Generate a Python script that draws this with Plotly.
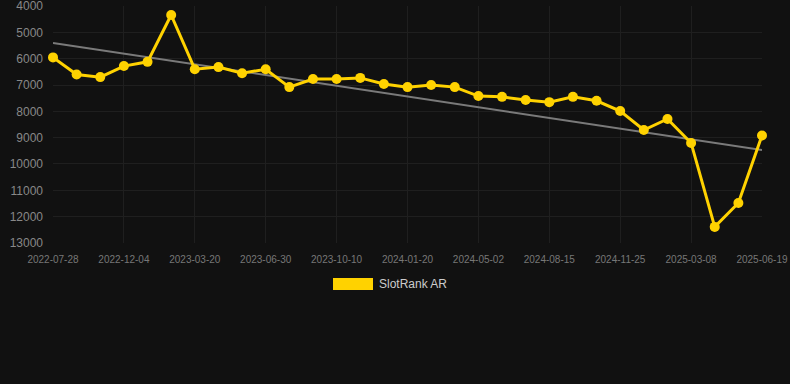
import plotly.graph_objects as go

dates = ["2022-07-28", "2022-08-31", "2022-10-03", "2022-12-04", "2023-01-08", "2023-02-13",
         "2023-03-20", "2023-04-23", "2023-05-27", "2023-06-30", "2023-08-03", "2023-09-06",
         "2023-10-10", "2023-11-13", "2023-12-17", "2024-01-20", "2024-02-23", "2024-03-29",
         "2024-05-02", "2024-06-05", "2024-07-11", "2024-08-15", "2024-09-18", "2024-10-22",
         "2024-11-25", "2024-12-29", "2025-02-02", "2025-03-08", "2025-04-11", "2025-05-15",
         "2025-06-19"]
ranks = [5950, 6600, 6700, 6280, 6120, 4340, 6400, 6320, 6550, 6400, 7080, 6770,
         6770, 6730, 6960, 7080, 7000, 7080, 7420, 7450, 7570, 7650, 7450, 7600,
         7990, 8710, 8290, 9200, 12390, 11480, 8920]
trend_x = [dates[0], dates[-1]]
trend_y = [5400, 9470]
tick_labels = dates[::3]
y_ticks = [4000, 5000, 6000, 7000, 8000, 9000, 10000, 11000, 12000, 13000]
series_name = "SlotRank AR"

YELLOW = "#FFD200"
BG = "#111111"
GRID = "#1f1f1f"

fig = go.Figure()
fig.add_trace(go.Scatter(
    x=trend_x, y=trend_y, mode="lines",
    line=dict(color="#7a7a7a", width=2), showlegend=False, hoverinfo="skip"))
fig.add_trace(go.Scatter(
    x=dates, y=ranks, mode="lines+markers", name=series_name,
    line=dict(color=YELLOW, width=3), marker=dict(color=YELLOW, size=10),
    cliponaxis=False, showlegend=False))

fig.update_layout(
    width=790, height=384,
    paper_bgcolor=BG, plot_bgcolor=BG,
    margin=dict(l=53, r=28, t=6, b=141, autoexpand=False),
    font=dict(family="Liberation Sans, Arial, sans-serif", color="#888888"),
    showlegend=False,
    xaxis=dict(
        type="category", categoryorder="array", categoryarray=dates,
        range=[0, len(dates) - 1], automargin=False,
        tickmode="array", tickvals=tick_labels, ticktext=tick_labels,
        tickfont=dict(size=10, color="#777777"),
        showgrid=True, gridcolor=GRID, gridwidth=1,
        zeroline=False, showline=False, ticks="", ticklabelstandoff=9,
        ticklabeloverflow="allow"),
    yaxis=dict(
        range=[13002, 3998], tickmode="array", tickvals=y_ticks, automargin=False,
        ticktext=[str(v) for v in y_ticks],
        tickfont=dict(size=12, color="#888888"),
        showgrid=True, gridcolor=GRID, gridwidth=1,
        zeroline=False, showline=False, ticks="", ticklabelstandoff=9,
        ticklabeloverflow="allow"),
    shapes=[dict(type="rect", xref="paper", yref="paper",
                 x0=(333 - 53) / 709, x1=(373 - 53) / 709,
                 y0=(243 - 290) / 237, y1=(243 - 278) / 237,
                 fillcolor=YELLOW, line=dict(width=0))],
    annotations=[dict(text=series_name, xref="paper", yref="paper",
                      x=(377 - 53) / 709, y=(243 - 284) / 237,
                      xanchor="left", yanchor="middle", showarrow=False,
                      font=dict(size=12, color="#cccccc"))],
)

fig.write_html("out.html", config={"displayModeBar": False},
               post_script="document.body.style.margin='0';document.body.style.background='#111111';")
